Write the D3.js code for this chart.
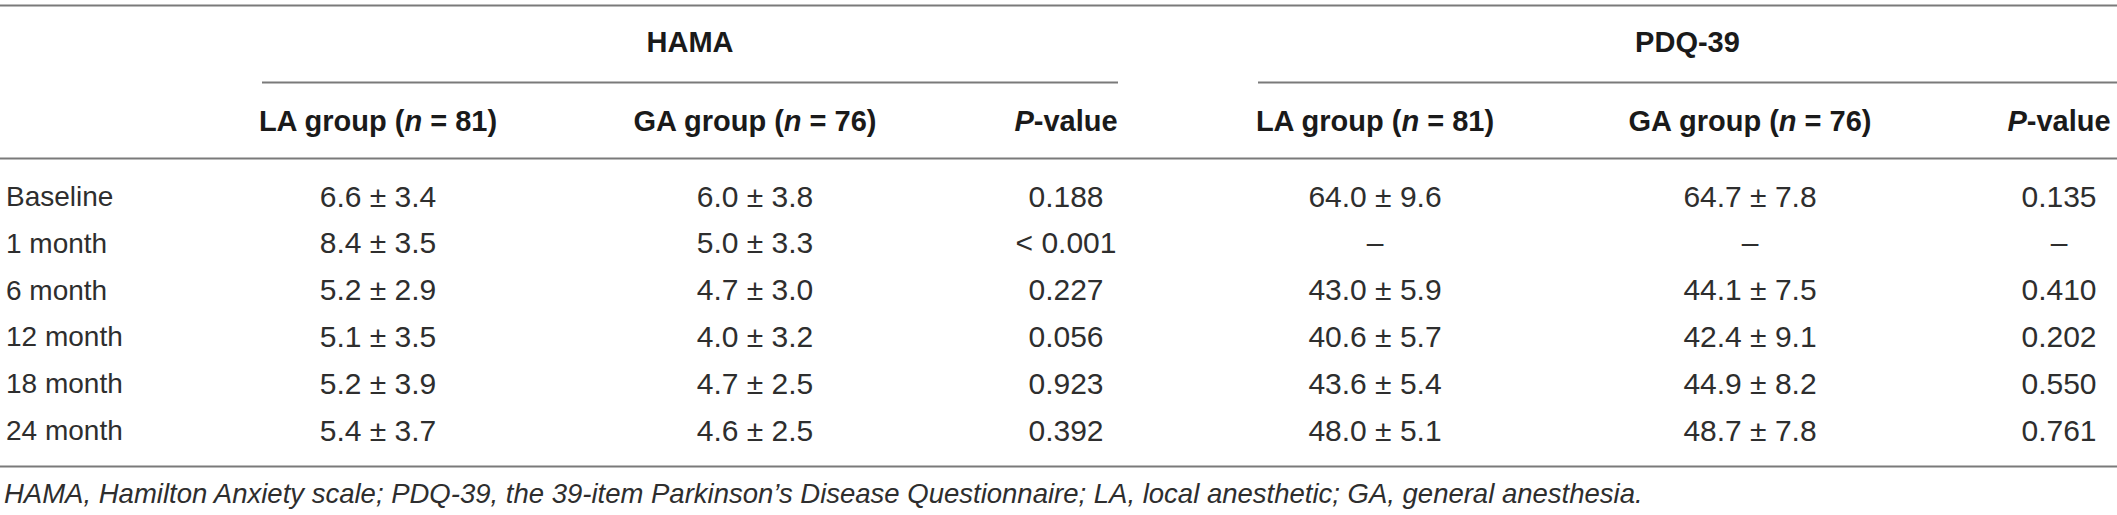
<!DOCTYPE html>
<html>
<head>
<meta charset="utf-8">
<script src="https://cdn.jsdelivr.net/npm/d3@7"></script>
<style>
  html, body { margin: 0; padding: 0; background: #fff; }
  svg { display: block; font-family: "Liberation Sans", Arial, Helvetica, sans-serif; }
</style>
</head>
<body>
<svg id="table" width="2117" height="515"></svg>
<script>
// table content
const rowLabels = ['Baseline', '1 month', '6 month', '12 month', '18 month', '24 month']

const hamaLAMean = [6.6, 8.4, 5.2, 5.1, 5.2, 5.4]
const hamaLASd = [3.4, 3.5, 2.9, 3.5, 3.9, 3.7]
const hamaGAMean = [6.0, 5.0, 4.7, 4.0, 4.7, 4.6]
const hamaGASd = [3.8, 3.3, 3.0, 3.2, 2.5, 2.5]
const hamaP = ['0.188', '< 0.001', '0.227', '0.056', '0.923', '0.392']

const pdqLAMean = [64.0, null, 43.0, 40.6, 43.6, 48.0]
const pdqLASd = [9.6, null, 5.9, 5.7, 5.4, 5.1]
const pdqGAMean = [64.7, null, 44.1, 42.4, 44.9, 48.7]
const pdqGASd = [7.8, null, 7.5, 9.1, 8.2, 7.8]
const pdqP = ['0.135', '–', '0.410', '0.202', '0.550', '0.761']

const groupLabels = ['HAMA', 'PDQ-39']
const columnKeys = ['hamaLA', 'hamaGA', 'hamaP', 'pdqLA', 'pdqGA', 'pdqP']
const columnHeads = [
  ['LA group (', 'n', ' = 81)'],
  ['GA group (', 'n', ' = 76)'],
  ['', 'P', '-value'],
  ['LA group (', 'n', ' = 81)'],
  ['GA group (', 'n', ' = 76)'],
  ['', 'P', '-value']
]
const footnote = 'HAMA, Hamilton Anxiety scale; PDQ-39, the 39-item Parkinson’s Disease Questionnaire; LA, local anesthetic; GA, general anesthesia.'

// layout
const width = 2117
const ruleColor = '#7a7a7a'
const textColor = '#2e2e2e'
const fmt = d3.format('.1f')

const svg = d3.select('#table')

const x = d3.scaleOrdinal()
  .domain(columnKeys)
  .range([378, 755, 1066, 1375, 1750, 2059])

const y = d3.scalePoint()
  .domain(rowLabels)
  .range([196, 430])

const groupSpan = d3.scaleOrdinal()
  .domain(groupLabels)
  .range([[262, 1118], [1258, width]])

/**
 * Builds the "mean ± sd" strings of a column, or a dash where there is no value.
 */
function meanSd (means, sds) {
  return means.map((m, i) => m === null ? '–' : fmt(m) + ' ± ' + fmt(sds[i]))
}

const cells = {
  hamaLA: meanSd(hamaLAMean, hamaLASd),
  hamaGA: meanSd(hamaGAMean, hamaGASd),
  hamaP: hamaP,
  pdqLA: meanSd(pdqLAMean, pdqLASd),
  pdqGA: meanSd(pdqGAMean, pdqGASd),
  pdqP: pdqP
}

// horizontal rules
const rules = [
  { x1: 0, x2: width, y: 5.5 },
  { x1: 0, x2: width, y: 158.5 },
  { x1: 0, x2: width, y: 466.5 }
]
groupLabels.forEach(g => {
  rules.push({ x1: groupSpan(g)[0], x2: groupSpan(g)[1], y: 82.5 })
})

svg.append('g').selectAll('line')
  .data(rules)
  .join('line')
  .attr('x1', d => d.x1)
  .attr('x2', d => d.x2)
  .attr('y1', d => d.y)
  .attr('y2', d => d.y)
  .attr('stroke', ruleColor)
  .attr('stroke-width', 2)

// group headers
svg.append('g').selectAll('text')
  .data(groupLabels)
  .join('text')
  .attr('x', d => (groupSpan(d)[0] + groupSpan(d)[1]) / 2)
  .attr('y', 52)
  .attr('text-anchor', 'middle')
  .attr('font-size', 29)
  .attr('font-weight', 'bold')
  .attr('fill', '#1a1a1a')
  .text(d => d)

// column headers
const heads = svg.append('g').selectAll('text')
  .data(columnKeys)
  .join('text')
  .attr('x', d => x(d))
  .attr('y', 131)
  .attr('text-anchor', 'middle')
  .attr('font-size', 29)
  .attr('font-weight', 'bold')
  .attr('fill', '#1a1a1a')

heads.each(function (d, i) {
  const parts = columnHeads[i]
  const t = d3.select(this)
  t.append('tspan').text(parts[0])
  t.append('tspan').attr('font-style', 'italic').text(parts[1])
  t.append('tspan').text(parts[2])
})

// row labels
svg.append('g').selectAll('text')
  .data(rowLabels)
  .join('text')
  .attr('x', 6)
  .attr('y', d => y(d) + 10)
  .attr('font-size', 28)
  .attr('fill', textColor)
  .text(d => d)

// body cells
columnKeys.forEach(key => {
  svg.append('g').selectAll('text')
    .data(cells[key])
    .join('text')
    .attr('x', x(key))
    .attr('y', (d, i) => y(rowLabels[i]) + 10.5)
    .attr('text-anchor', 'middle')
    .attr('font-size', 30)
    .attr('fill', textColor)
    .text(d => d)
})

// footnote
svg.append('text')
  .attr('x', 4)
  .attr('y', 503)
  .attr('font-size', 27.5)
  .attr('font-style', 'italic')
  .attr('fill', textColor)
  .text(footnote)
</script>
</body>
</html>
